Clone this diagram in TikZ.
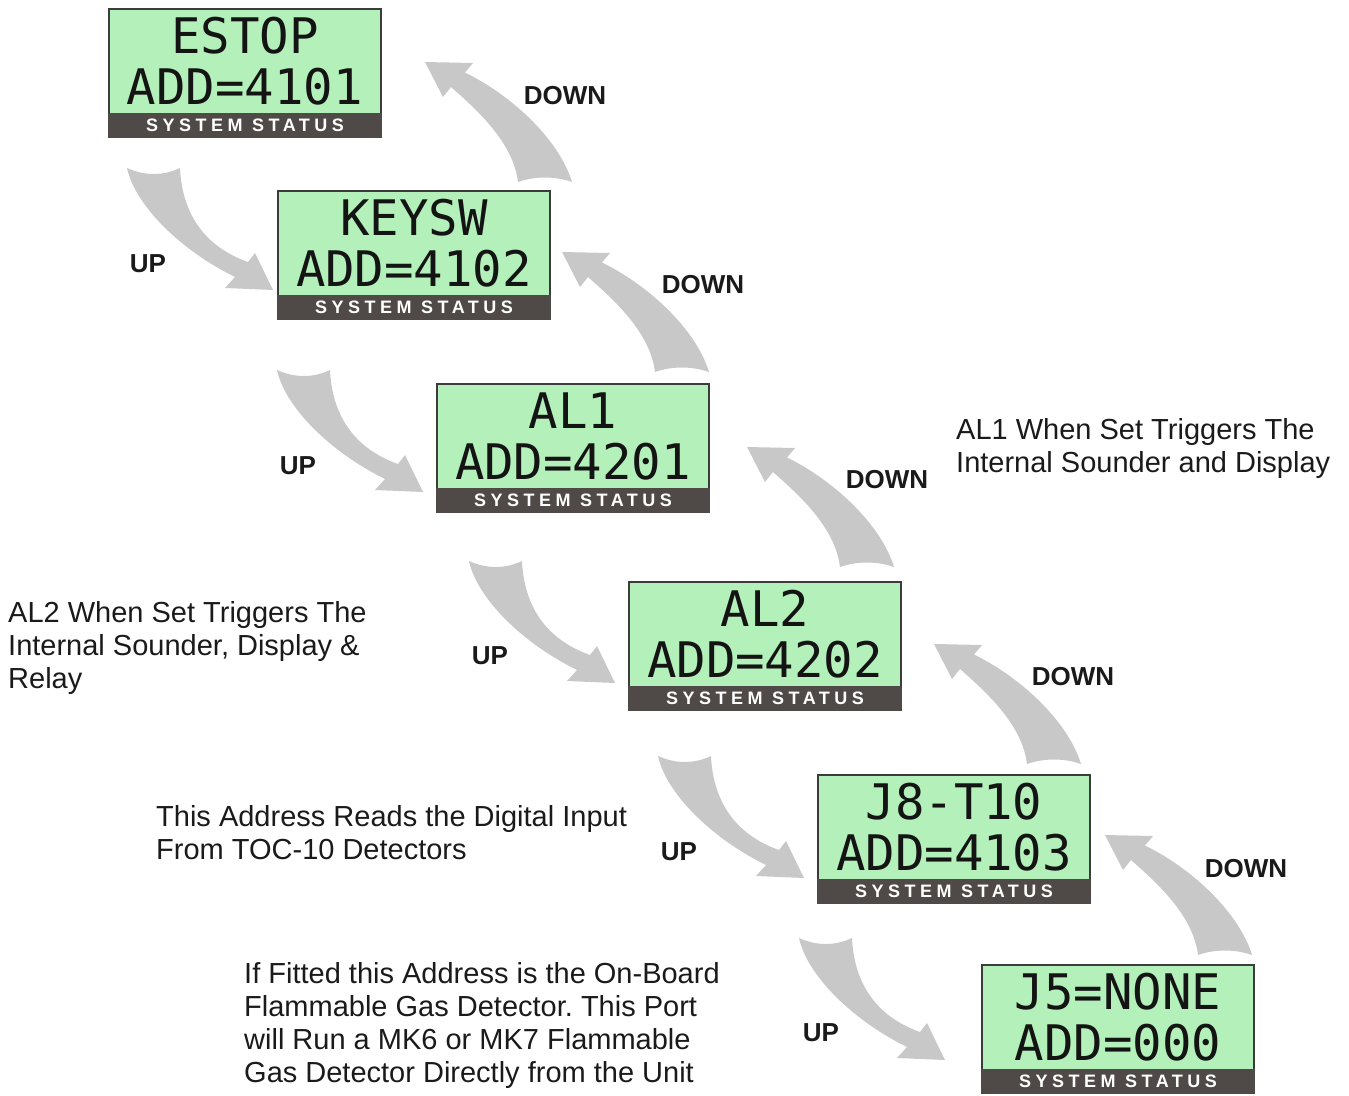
\documentclass[tikz,border=0pt]{standalone}
\usepackage{fontspec}
\setmainfont{Liberation Sans}
\newfontfamily\lcdfont{DejaVu Sans Mono}
\newfontfamily\barfont[LetterSpace=25]{Liberation Sans}
\usetikzlibrary{positioning,calc}
\definecolor{lcdgreen}{HTML}{B3F0BA}
\definecolor{lcdbar}{HTML}{4F4A47}
\definecolor{lcdedge}{HTML}{3C3C3C}
\definecolor{lcdink}{HTML}{141414}
\definecolor{lblink}{HTML}{1A1A1A}
\definecolor{arrowgray}{HTML}{C8C8C8}
\frenchspacing

\begin{document}
\begin{tikzpicture}[x=1pt,y=-1pt,
    lcd/.style={rectangle,draw=lcdedge,line width=1.2pt,fill=lcdgreen,
                minimum width=272pt,minimum height=105pt,inner sep=0pt,outer sep=0pt,
                anchor=north west,align=center,text=lcdink,
                font=\lcdfont\fontsize{49}{51}\selectfont},
    sbar/.style={rectangle,fill=lcdbar,draw=lcdbar,line width=1.2pt,
                 minimum width=272pt,minimum height=23pt,inner sep=0pt,outer sep=0pt,
                 text=white,font=\barfont\bfseries\fontsize{18}{18}\selectfont},
    dirlbl/.style={font=\bfseries\fontsize{26}{26}\selectfont,text=lblink},
    note/.style={anchor=north west,align=left,inner sep=0pt,text=lblink,
                 font=\fontsize{29}{32.8}\selectfont},
    uparr/.pic={
      \fill[arrowgray] (0,0) -- (-48,-2) -- (-38,-13)
        .. controls (-93,-40) and (-138,-85) .. (-146,-122)
        .. controls (-128,-114) and (-110,-114) .. (-93,-122)
        .. controls (-91,-78) and (-70,-44) .. (-25,-28) -- (-18,-37) -- cycle;
    },
    dnarr/.pic={
      \fill[arrowgray] (0,0) -- (48,1) -- (40,10.5)
        .. controls (90,35) and (135,80) .. (147,120)
        .. controls (130,114) and (110,114) .. (93,120)
        .. controls (88,80) and (52,48) .. (26,25) -- (18,35) -- cycle;
    },
  ]
  \useasboundingbox (0,0) rectangle (1349,1095);

  % the six status screens, each with its bar underneath
  \node[lcd] (estop)  at (109,9)   {ESTOP\\ADD=4101};
  \node[lcd] (keysw)  at (278,191) {KEYSW\\ADD=4102};
  \node[lcd] (alone)  at (437,384) {AL1\\ADD=4201};
  \node[lcd] (altwo)  at (629,582) {AL2\\ADD=4202};
  \node[lcd] (jeight) at (818,775) {J8-T10\\ADD=4103};
  \node[lcd] (jfive)  at (982,965) {J5=NONE\\ADD=000};

  \node[sbar,below=0pt of estop]  (estopbar)  {SYSTEM STATUS};
  \node[sbar,below=0pt of keysw]  (keyswbar)  {SYSTEM STATUS};
  \node[sbar,below=0pt of alone]  (alonebar)  {SYSTEM STATUS};
  \node[sbar,below=0pt of altwo]  (altwobar)  {SYSTEM STATUS};
  \node[sbar,below=0pt of jeight] (jeightbar) {SYSTEM STATUS};
  \node[sbar,below=0pt of jfive]  (jfivebar)  {SYSTEM STATUS};

  % UP arrows point at the next screen down
  \pic at ($(keysw.north west)+(-5,99)$)   {uparr};
  \pic at ($(alone.north west)+(-14,108)$) {uparr};
  \pic at ($(altwo.north west)+(-14,101)$) {uparr};
  \pic at ($(jeight.north west)+(-14,103)$) {uparr};
  \pic at ($(jfive.north west)+(-37,95)$)  {uparr};

  % DOWN arrows go back to the screen above
  \pic at ($(estop.north east)+(44,53)$)  {dnarr};
  \pic at ($(keysw.north east)+(12,61)$)  {dnarr};
  \pic at ($(alone.north east)+(38,63)$)  {dnarr};
  \pic at ($(altwo.north east)+(33,62)$)  {dnarr};
  \pic at ($(jeight.north east)+(15,60)$) {dnarr};

  \node[dirlbl] (up1) at (148,264)  {UP};
  \node[dirlbl] (up2) at (298,466)  {UP};
  \node[dirlbl] (up3) at (490,656)  {UP};
  \node[dirlbl] (up4) at (679,852)  {UP};
  \node[dirlbl] (up5) at (821,1033) {UP};

  \node[dirlbl] (dn1) at (565,96)   {DOWN};
  \node[dirlbl] (dn2) at (703,285)  {DOWN};
  \node[dirlbl] (dn3) at (887,480)  {DOWN};
  \node[dirlbl] (dn4) at (1073,677) {DOWN};
  \node[dirlbl] (dn5) at (1246,869) {DOWN};

  % side notes
  \node[note] (alonenote) at (956,418.5)
    {AL1 When Set Triggers The\\Internal Sounder and Display};
  \node[note] (altwonote) at (8,601.5)
    {AL2 When Set Triggers The\\Internal Sounder, Display \&\\Relay};
  \node[note] (jeightnote) at (156,805.5)
    {This Address Reads the Digital Input\\From TOC-10 Detectors};
  \node[note] (jfivenote) at (244,962.5)
    {If Fitted this Address is the On-Board\\Flammable Gas Detector. This Port\\will Run a MK6 or MK7 Flammable\\Gas Detector Directly from the Unit};
\end{tikzpicture}
\end{document}
